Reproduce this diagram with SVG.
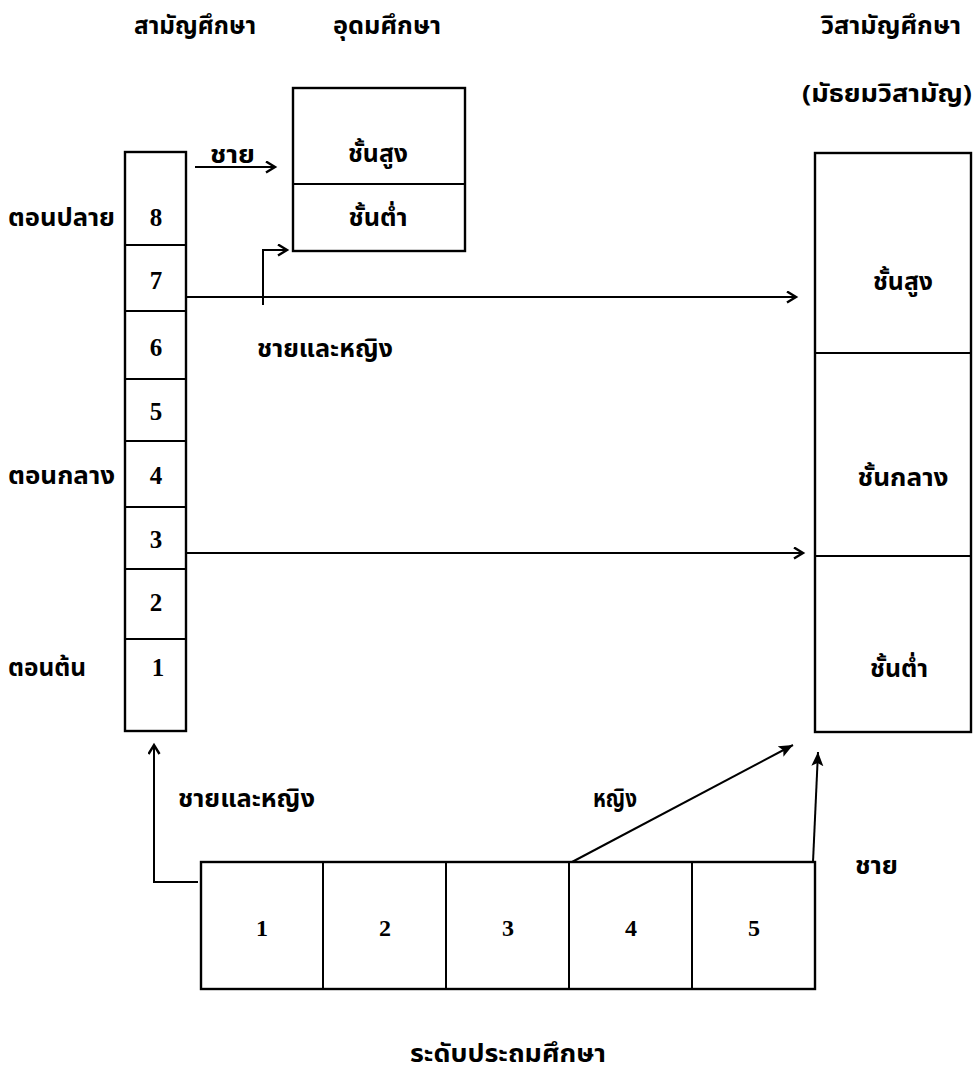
<svg xmlns="http://www.w3.org/2000/svg" width="978" height="1071" viewBox="0 0 978 1071">
<style>
.bg{fill:#fff}
.box{fill:#fff;stroke:#000;stroke-width:2.4}
.div{stroke:#000;stroke-width:2;fill:none}
.th{font-family:"Noto Sans Thai","Noto Sans","DejaVu Sans",sans-serif;font-weight:bold;font-size:24px;fill:#000}
.num{font-family:"Liberation Serif",serif;font-weight:bold;font-size:25px;fill:#000;text-anchor:middle}
.num2{font-family:"Liberation Serif",serif;font-weight:bold;font-size:24px;fill:#000;text-anchor:middle}
.mid{text-anchor:middle}
.con{stroke:#000;stroke-width:2;fill:none}
</style>
<defs>
<marker id="open" markerUnits="userSpaceOnUse" markerWidth="16" markerHeight="16" refX="11" refY="6" orient="auto">
<path d="M2,0.5 L11,6 L2,11.5" fill="none" stroke="#000" stroke-width="2.4"/>
</marker>
<marker id="fill" markerUnits="userSpaceOnUse" markerWidth="18" markerHeight="18" refX="14" refY="6" orient="auto">
<path d="M0,0 L14,6 L0,12 L3,6 Z" fill="#000"/>
</marker>
</defs>
<rect class="bg" x="0" y="0" width="978" height="1071"/>

<g id="headers">
<text class="th mid" x="195" y="34" textLength="122" lengthAdjust="spacingAndGlyphs">สามัญศึกษา</text>
<text class="th mid" x="387" y="34" textLength="108" lengthAdjust="spacingAndGlyphs">อุดมศึกษา</text>
<text class="th mid" x="891" y="34" textLength="140" lengthAdjust="spacingAndGlyphs">วิสามัญศึกษา</text>
<text class="th mid" x="887" y="102" textLength="170" lengthAdjust="spacingAndGlyphs">(มัธยมวิสามัญ)</text>
</g>

<g id="column">
<rect class="box" x="125" y="152" width="61" height="579"/>
<path class="div" d="M125,245 H186 M125,311 H186 M125,379 H186 M125,441 H186 M125,507 H186 M125,569 H186 M125,639 H186"/>
<text class="num" x="156" y="226">8</text>
<text class="num" x="156" y="289">7</text>
<text class="num" x="156" y="356">6</text>
<text class="num" x="156" y="420">5</text>
<text class="num" x="156" y="484">4</text>
<text class="num" x="156" y="548">3</text>
<text class="num" x="156" y="611">2</text>
<text class="num" x="158" y="676">1</text>
</g>

<g id="column-labels">
<text class="th" x="8" y="226" textLength="107" lengthAdjust="spacingAndGlyphs">ตอนปลาย</text>
<text class="th" x="8" y="484" textLength="107" lengthAdjust="spacingAndGlyphs">ตอนกลาง</text>
<text class="th" x="8" y="676" textLength="78" lengthAdjust="spacingAndGlyphs">ตอนต้น</text>
</g>

<g id="higher">
<rect class="box" x="293" y="88" width="172" height="163"/>
<path class="div" d="M293,184 H465"/>
<text class="th mid" x="378" y="162" textLength="60" lengthAdjust="spacingAndGlyphs">ชั้นสูง</text>
<text class="th mid" x="378" y="226" textLength="59" lengthAdjust="spacingAndGlyphs">ชั้นต่ำ</text>
</g>

<g id="vocational">
<rect class="box" x="815" y="153" width="156" height="579"/>
<path class="div" d="M815,353 H971 M815,556 H971"/>
<text class="th mid" x="903" y="290" textLength="60" lengthAdjust="spacingAndGlyphs">ชั้นสูง</text>
<text class="th mid" x="903" y="486" textLength="91" lengthAdjust="spacingAndGlyphs">ชั้นกลาง</text>
<text class="th mid" x="899" y="677" textLength="58" lengthAdjust="spacingAndGlyphs">ชั้นต่ำ</text>
</g>

<g id="primary">
<rect class="box" x="201" y="862" width="614" height="127"/>
<path class="div" d="M323,862 V989 M446,862 V989 M569,862 V989 M692,862 V989"/>
<text class="num2" x="262" y="936">1</text>
<text class="num2" x="385" y="936">2</text>
<text class="num2" x="508" y="936">3</text>
<text class="num2" x="631" y="936">4</text>
<text class="num2" x="754" y="936">5</text>
</g>

<g id="connectors">
<path class="con" d="M195,167 H275" marker-end="url(#open)"/>
<path class="con" d="M263,305 V250 H287" marker-end="url(#open)"/>
<path class="con" d="M186,297 H796" marker-end="url(#open)"/>
<path class="con" d="M186,553 H803" marker-end="url(#open)"/>
<path class="con" d="M198,882 H154 V745" marker-end="url(#open)"/>
<path class="con" d="M572,862 L793,745" marker-end="url(#fill)"/>
<path class="con" d="M813,862 L818,752" marker-end="url(#fill)"/>
</g>

<g id="connector-labels">
<text class="th" x="210" y="163" textLength="45" lengthAdjust="spacingAndGlyphs">ชาย</text>
<text class="th" x="257" y="357" textLength="136" lengthAdjust="spacingAndGlyphs">ชายและหญิง</text>
<text class="th" x="178" y="807" textLength="137" lengthAdjust="spacingAndGlyphs">ชายและหญิง</text>
<text class="th" x="593" y="807" textLength="44" lengthAdjust="spacingAndGlyphs">หญิง</text>
<text class="th" x="855" y="874" textLength="43" lengthAdjust="spacingAndGlyphs">ชาย</text>
<text class="th mid" x="508" y="1062" textLength="196" lengthAdjust="spacingAndGlyphs">ระดับประถมศึกษา</text>
</g>
</svg>
